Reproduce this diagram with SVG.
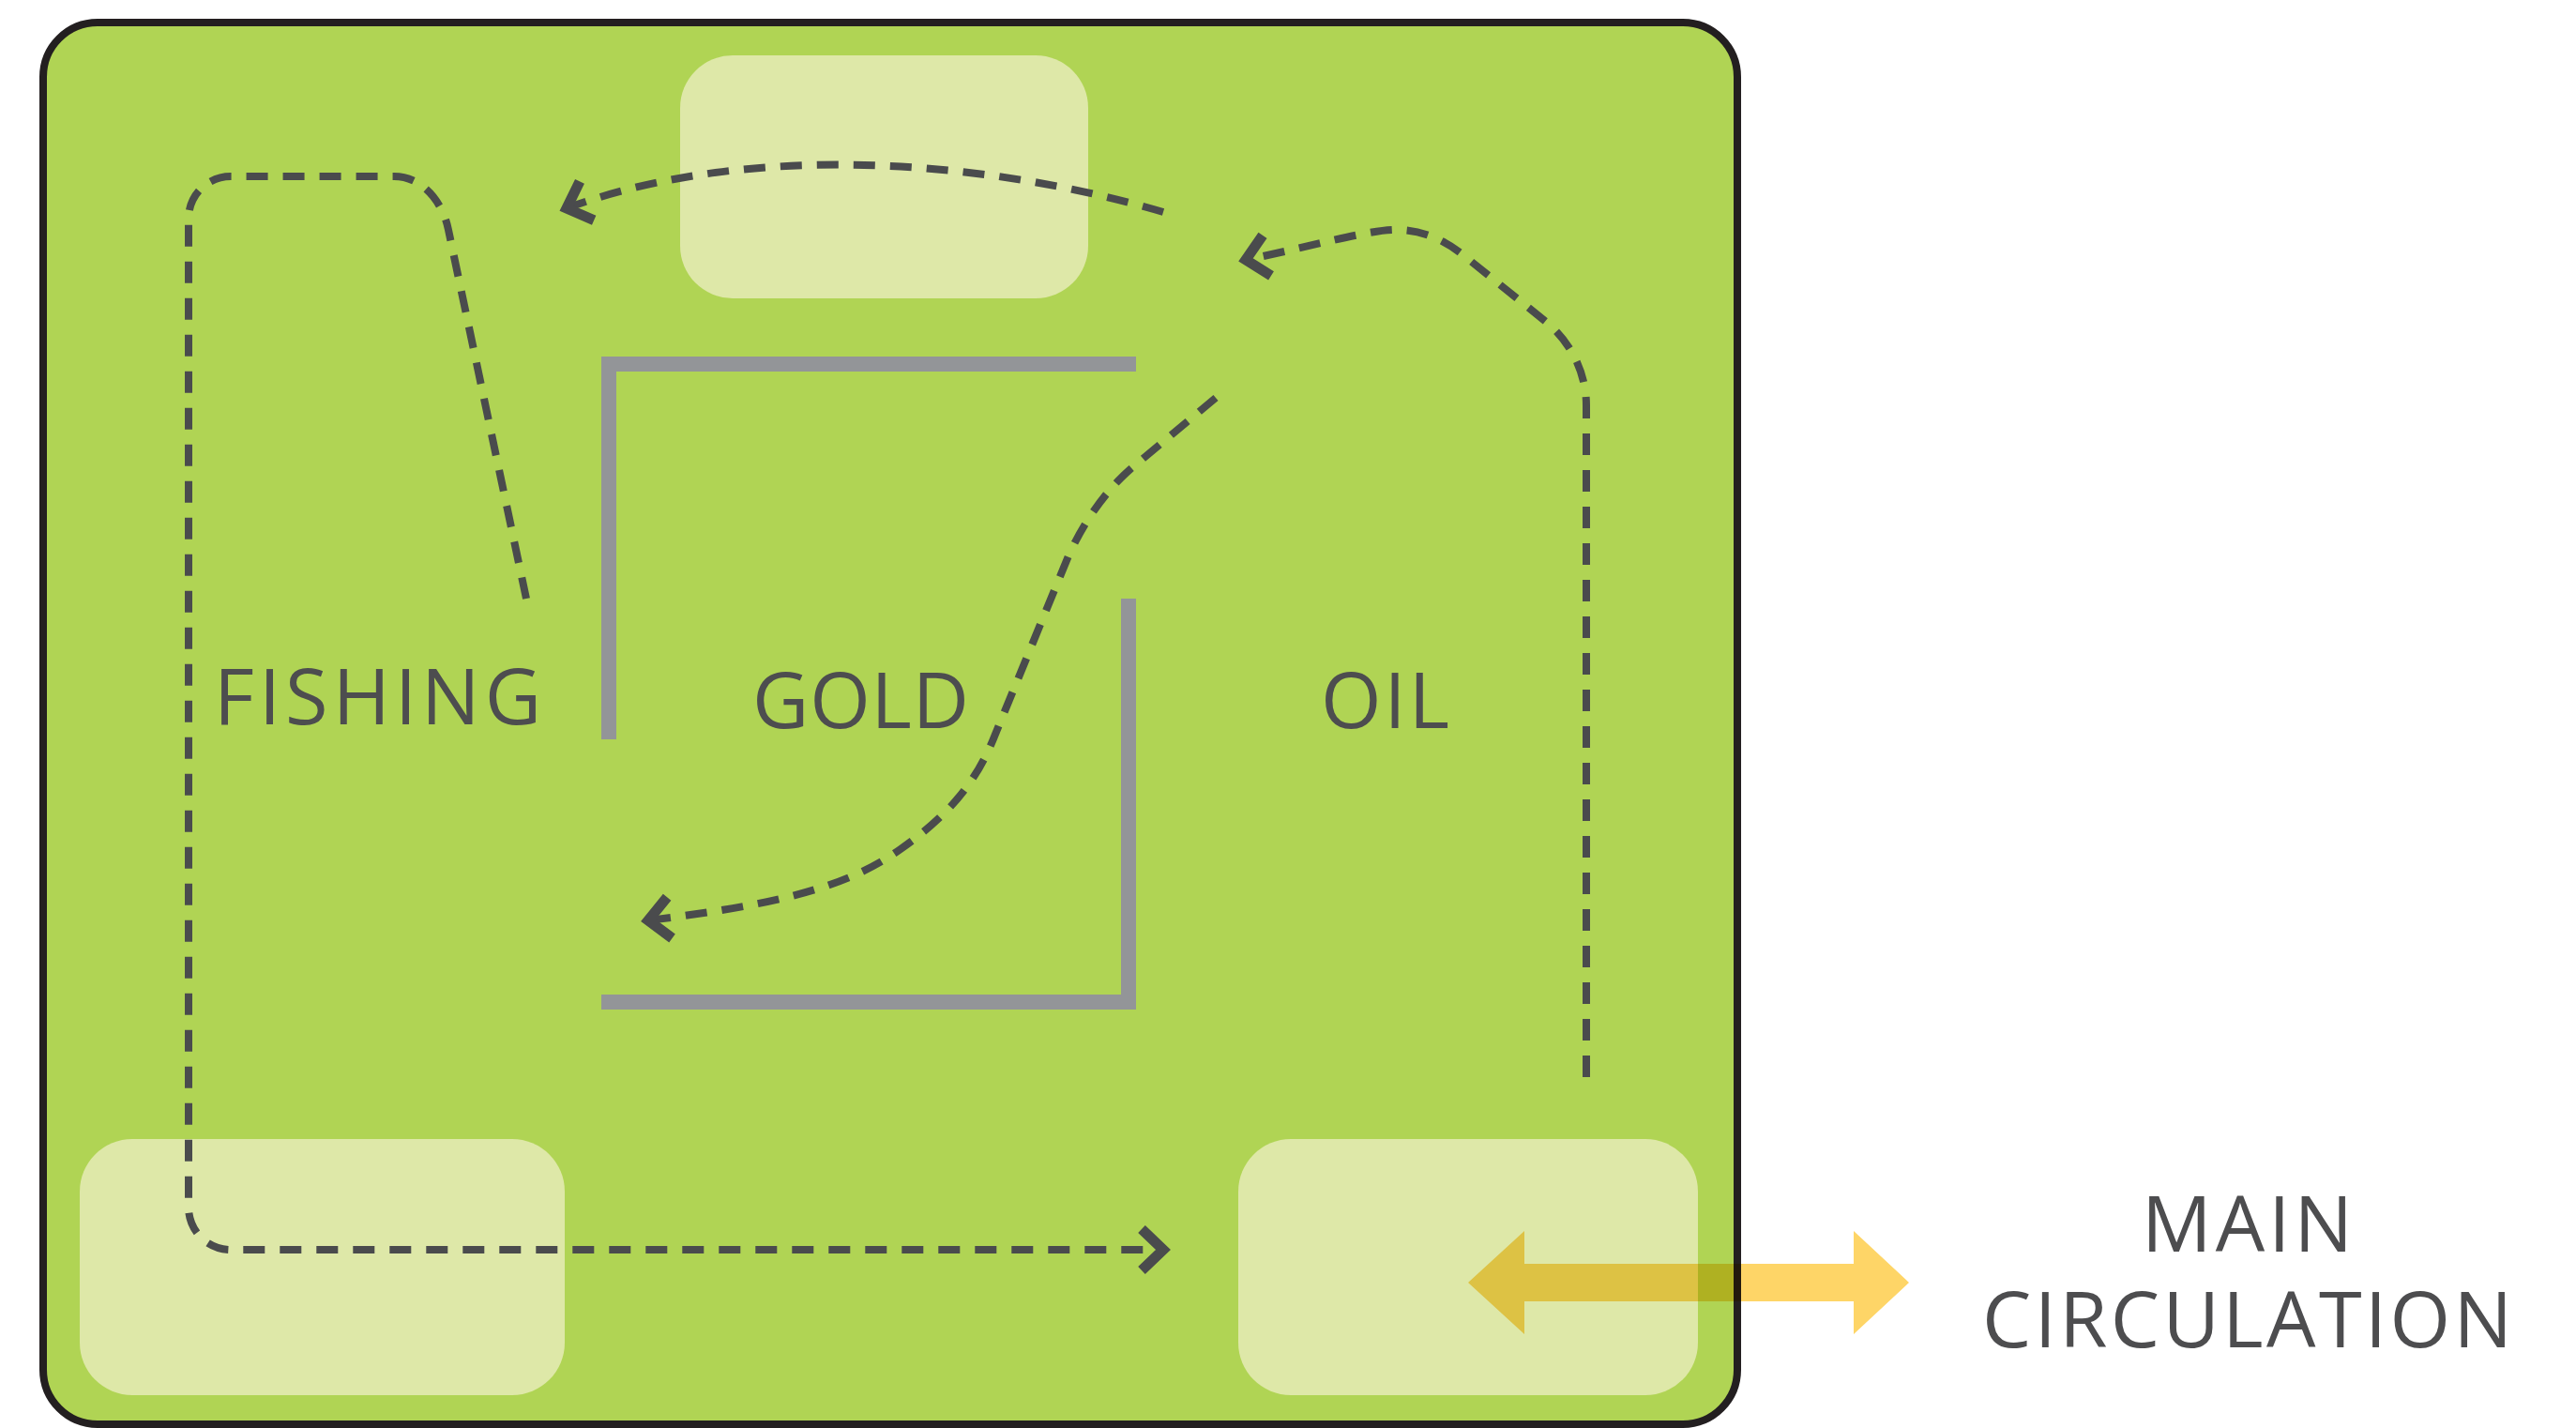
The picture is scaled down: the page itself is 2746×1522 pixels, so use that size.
<svg xmlns="http://www.w3.org/2000/svg" width="2746" height="1522" viewBox="0 0 2746 1522">
<style>
.bg{fill:#b0d454;stroke:#231f20;stroke-width:8}
.zone{fill:#dee8a8}
.wall{fill:#939598}
.lbl{font-family:"Open Sans","Noto Sans","Liberation Sans",sans-serif;font-size:83px;fill:#4d4d4f}
.flow{fill:none;stroke:#4a4b4d;stroke-width:8;stroke-dasharray:23 16;marker-end:url(#chev)}
.main{fill:#fed567;mix-blend-mode:multiply}
</style>
<defs>
<marker id="chev" markerUnits="userSpaceOnUse" orient="auto" markerWidth="80" markerHeight="80" viewBox="-40 -40 80 80" refX="0" refY="0" overflow="visible">
<path d="M -23 -22 L 0 0 L -23 22" fill="none" stroke="#4a4b4d" stroke-width="11" stroke-miterlimit="10" stroke-dasharray="none"/>
</marker>
</defs>
<rect class="bg" x="46" y="24" width="1806" height="1494" rx="58" ry="58"/>
<g id="zone-top"><rect class="zone" x="725" y="59" width="435" height="259" rx="56" ry="56"/></g>
<g id="zone-bottom-left"><rect class="zone" x="85" y="1214" width="517" height="273" rx="56" ry="56"/></g>
<g id="zone-bottom-right"><rect class="zone" x="1320" y="1214" width="490" height="273" rx="56" ry="56"/></g>
<g id="walls">
<rect class="wall" x="641" y="380" width="570" height="16"/>
<rect class="wall" x="641" y="380" width="16" height="408"/>
<rect class="wall" x="1195" y="638" width="16" height="438"/>
<rect class="wall" x="641" y="1060" width="570" height="16"/>
</g>
<g id="fishing"><text class="lbl" x="228" y="772" textLength="349" lengthAdjust="spacing">FISHING</text></g>
<g id="gold"><text class="lbl" x="802" y="776" textLength="231" lengthAdjust="spacing">GOLD</text></g>
<g id="oil"><text class="lbl" x="1408" y="776" textLength="137" lengthAdjust="spacing">OIL</text></g>
<g id="main-circulation">
<text class="lbl" x="2283" y="1334" textLength="225" lengthAdjust="spacing">MAIN</text>
<text class="lbl" x="2113" y="1436" textLength="565" lengthAdjust="spacing">CIRCULATION</text>
</g>
<g id="connectors">
<path class="flow" d="M 561 638 L 478 245 C 472 215 450 188 420 188 L 246 188 A 45 45 0 0 0 201 233 L 201 1287 A 45 45 0 0 0 246 1332 L 1240 1332"/>
<path class="flow" d="M 1240 226 C 1050 170 800 150 604 222"/>
<path class="flow" d="M 1691 1148 L 1691 432 C 1691 395 1672 362 1648 343 L 1560 272 C 1535 252 1510 244 1485 245 C 1455 246 1400 262 1328 277"/>
<path class="flow" d="M 1296 424 L 1205 500 C 1180 522 1158 552 1140 590 L 1060 785 C 1040 835 1010 870 960 905 C 900 948 820 965 691 981"/>
<polygon class="main" points="1565,1367 1625,1312 1625,1347 1976,1347 1976,1312 2035,1367 1976,1422 1976,1387 1625,1387 1625,1422"/>
</g>
</svg>
